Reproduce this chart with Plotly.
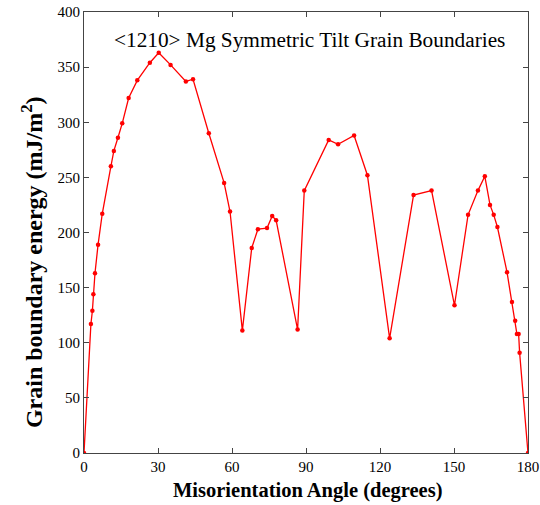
import plotly.graph_objects as go

# Misorientation angle (degrees) and grain boundary energy (mJ/m^2)
angle = [0, 2.8, 3.4, 3.8, 4.45, 5.7, 7.4, 10.9, 12.1, 13.75, 15.5, 18.1, 21.6,
         26.7, 30.3, 35.1, 41.3, 44.2, 50.6, 56.8, 59.2, 64.2, 68.0, 70.5,
         74.2, 76.3, 77.9, 86.6, 89.3, 99.2, 103.0, 109.5, 114.9, 123.9,
         133.6, 140.9, 150.2, 155.7, 159.7, 162.5, 164.6, 166.1, 167.6,
         171.5, 173.5, 174.8, 175.5, 176.2, 176.6, 180]
energy = [0, 117, 129, 144, 163, 189, 217, 260, 274, 286, 299, 322, 338,
          354, 363, 352, 337, 339, 290, 245, 219, 111, 186, 203,
          204, 215, 211, 112, 238, 284, 280, 288, 252, 104,
          234, 238, 134, 216, 238, 251, 225, 216, 205,
          164, 137, 120, 108, 108, 91, 0]

x_ticks = [0, 30, 60, 90, 120, 150, 180]
y_ticks = [0, 50, 100, 150, 200, 250, 300, 350, 400]

serif = "Liberation Serif, Times New Roman, serif"
ink = "#000000"

fig = go.Figure()
fig.add_trace(go.Scatter(
    x=angle, y=energy, mode="lines+markers",
    line=dict(color="#ff0000", width=1.3),
    marker=dict(color="#ff0000", size=4.5),
    showlegend=False,
))

axis_common = dict(
    showline=True, linecolor="#444444", linewidth=1.2, mirror="ticks",
    ticks="inside", ticklen=5, tickcolor="#444444", showgrid=False,
    zeroline=False, automargin=False,
    tickfont=dict(family=serif, size=15, color=ink),
)

fig.update_xaxes(range=[0, 180], tickvals=x_ticks, ticklabelstandoff=0, **axis_common)
fig.update_yaxes(range=[0, 400], tickvals=y_ticks, ticklabelstandoff=0, **axis_common)

# Axis titles and the in-plot heading
fig.add_annotation(
    text="<b>Misorientation Angle (degrees)</b>",
    x=0.5045, y=-0.086, xref="paper", yref="paper",
    xanchor="center", yanchor="middle", showarrow=False,
    font=dict(family=serif, size=20.5, color=ink),
)
fig.add_annotation(
    text="<b>Grain boundary energy (mJ/m<sup>2</sup>)</b>",
    x=-0.117, y=0.433, xref="paper", yref="paper",
    xanchor="center", yanchor="middle", showarrow=False, textangle=-90,
    font=dict(family=serif, size=24, color=ink),
)
fig.add_annotation(
    text="<1210> Mg Symmetric Tilt Grain Boundaries",
    x=0.509, y=0.9365, xref="paper", yref="paper",
    xanchor="center", yanchor="middle", showarrow=False,
    font=dict(family=serif, size=21.3, color=ink),
)

fig.update_layout(
    width=540, height=505,
    margin=dict(l=84, r=12, t=12, b=52),
    paper_bgcolor="white", plot_bgcolor="white",
)

fig.write_html("out.html")
